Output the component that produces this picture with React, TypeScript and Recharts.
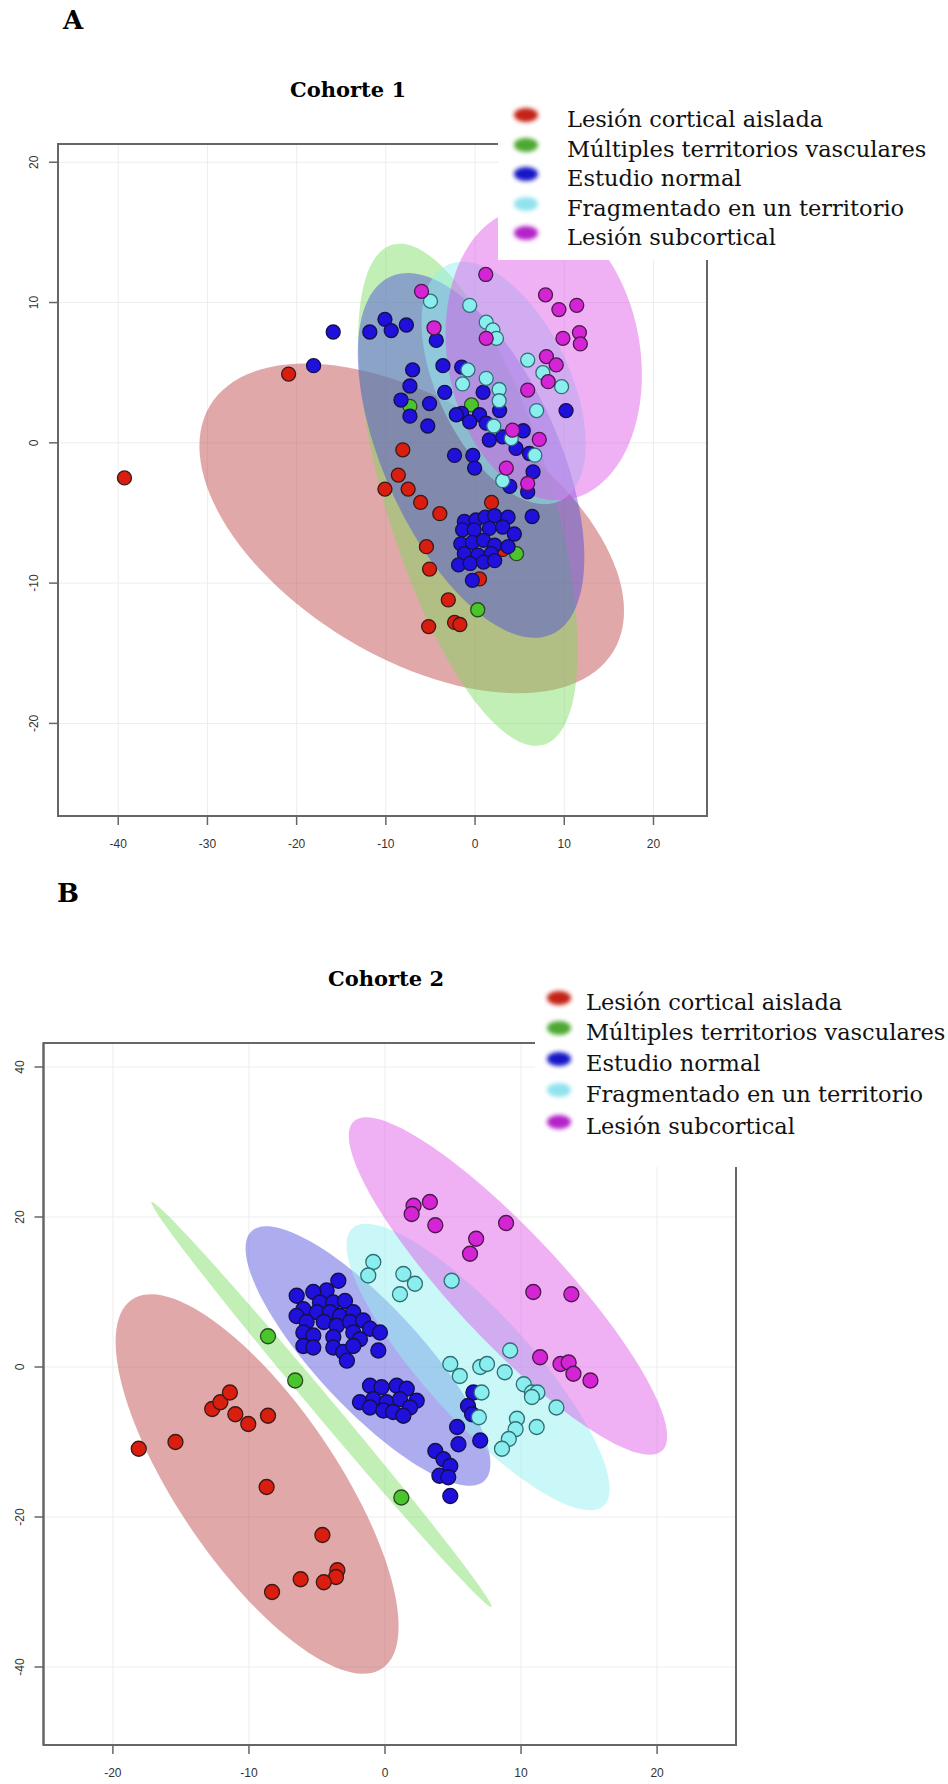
import { CartesianGrid, Legend, ReferenceArea, Scatter, ScatterChart, XAxis, YAxis } from "recharts";

type Pt = [number, number];

const groupNames = [
  "Lesión cortical aislada",
  "Múltiples territorios vasculares",
  "Estudio normal",
  "Fragmentado en un territorio",
  "Lesión subcortical",
];
const pointColors = ["#d91e10", "#4bc52c", "#1f10dc", "#8aeeee", "#d424d6"];
const pointStrokes = ["#3a1a16", "#2a4a20", "#14104a", "#2f6f75", "#4a1a4a"];
const ellipseColors = ["#be4646", "#78dc5a", "#4646dc", "#96f0f0", "#dc50e6"];
const ellipseAlpha = [0.47, 0.45, 0.45, 0.5, 0.45];
const legendColors = ["#c42018", "#4ea832", "#1414c8", "#92e2ee", "#b424c8"];

// Cohorte 1
const xTicksA = [-40, -30, -20, -10, 0, 10, 20];
const yTicksA = [-20, -10, 0, 10, 20];
const xDomainA: Pt = [-46.75, 26];
const yDomainA: Pt = [-26.6, 21.3];
// [centre x, centre y, half width, half height, correlation]
const ellipsesA = [
  [-7.1, -6.1, 23.8, 11.75, -0.5],
  [-0.8, -3.7, 12.3, 17.9, -0.62],
  [-0.45, -0.9, 12.7, 13.0, -0.56],
  [3.2, 4.26, 9.2, 8.64, -0.5],
  [7.7, 6.3, 11.0, 10.4, -0.14],
];
const redA: Pt[] = [
  [-39.3, -2.5], [-20.9, 4.9], [-8.1, -0.5], [-8.6, -2.3], [-10.1, -3.3], [-7.5, -3.3],
  [-6.1, -4.25], [-3.95, -5.05], [1.85, -4.25], [-5.45, -7.4], [-5.1, -9.0], [3.1, -7.6],
  [0.5, -9.7], [-3.0, -11.2], [-5.2, -13.1], [-2.3, -12.8], [-1.7, -12.95],
];
const greenA: Pt[] = [[-7.3, 2.6], [-0.4, 2.7], [4.65, -7.9], [0.3, -11.9]];
const blueA: Pt[] = [
  [-18.1, 5.5], [-15.9, 7.9], [-11.8, 7.9], [-10.1, 8.8], [-9.4, 8.0], [-7.7, 8.4],
  [-4.35, 7.3], [-7.0, 5.2], [-3.6, 5.5], [-1.5, 5.4], [-7.3, 4.05], [-3.4, 3.6],
  [0.9, 3.6], [-8.3, 3.05], [-5.1, 2.8], [-7.3, 1.9], [-1.5, 2.1], [0.5, 2.0],
  [-0.6, 1.5], [-5.3, 1.2], [1.6, 0.2], [-2.3, -0.9], [-0.25, -0.9], [-0.05, -1.8],
  [3.9, -3.1], [-2.1, 2.0], [2.75, 2.3], [1.25, 1.4], [5.4, 0.86], [3.1, 0.43],
  [4.6, -0.4], [6.1, -0.76], [6.5, -2.07], [5.9, -3.5], [10.2, 2.3], [6.4, -5.25],
  [-1.2, -5.6], [0.1, -5.5], [1.15, -5.3], [2.2, -5.2], [3.7, -5.3], [-1.4, -6.2],
  [-0.1, -6.2], [1.6, -6.1], [3.1, -6.0], [4.4, -6.5], [-1.6, -7.2], [-0.3, -7.1],
  [0.95, -6.95], [2.2, -7.3], [3.7, -7.4], [-1.2, -7.9], [0.3, -8.0], [1.8, -7.9],
  [-1.85, -8.7], [-0.55, -8.6], [0.95, -8.5], [2.2, -8.4], [-0.3, -9.8],
];
const cyanA: Pt[] = [
  [-5.0, 10.1], [-0.6, 9.8], [1.25, 8.6], [2.0, 8.05], [2.4, 7.45], [-0.8, 5.2],
  [-1.4, 4.2], [1.25, 4.6], [2.7, 3.8], [2.7, 3.0], [2.1, 1.2], [3.1, -2.7],
  [5.9, 5.9], [7.6, 5.0], [9.7, 4.0], [6.9, 2.3], [4.06, 0.3], [6.7, -0.88],
];
const magentaA: Pt[] = [
  [-6.0, 10.8], [1.2, 12.0], [-4.6, 8.2], [1.25, 7.45], [4.2, 0.9], [3.5, -1.8],
  [7.9, 10.55], [9.4, 9.5], [11.4, 9.8], [9.85, 7.45], [11.7, 7.86], [11.8, 7.05],
  [8.0, 6.15], [9.1, 5.55], [8.2, 4.36], [5.9, 3.76], [7.2, 0.24], [5.9, -2.9],
];

// Cohorte 2
const xTicksB = [-20, -10, 0, 10, 20];
const yTicksB = [-40, -20, 0, 20, 40];
const xDomainB: Pt = [-25.1, 25.8];
const yDomainB: Pt = [-50.4, 43.2];
const ellipsesB = [
  [-9.4, -15.6, 10.4, 25.3, -0.75],
  [-4.67, -5.0, 12.5, 27.0, -0.997],
  [-1.25, 1.47, 9.0, 17.3, -0.83],
  [6.84, 0.0, 9.67, 19.1, -0.85],
  [9.04, 10.8, 11.7, 22.5, -0.89],
];
const redB: Pt[] = [
  [-18.1, -10.9], [-15.4, -10.0], [-12.7, -5.6], [-12.1, -4.7], [-11.4, -3.4], [-11.0, -6.3],
  [-10.05, -7.6], [-8.6, -6.5], [-8.7, -16.0], [-4.6, -22.4], [-3.5, -27.1], [-3.6, -28.0],
  [-4.5, -28.7], [-6.2, -28.3], [-8.3, -30.0],
];
const greenB: Pt[] = [[-8.6, 4.1], [-6.6, -1.8], [1.2, -17.4]];
const blueB: Pt[] = [
  [-3.43, 11.5], [-4.29, 10.2], [-5.27, 10.0], [-6.49, 9.5], [-4.78, 8.6], [-3.8, 8.6],
  [-2.94, 8.8], [-6.0, 7.7], [-5.0, 7.3], [-4.04, 7.3], [-3.3, 6.8], [-2.33, 7.3],
  [-6.5, 6.8], [-5.76, 6.0], [-4.5, 6.0], [-3.55, 5.5], [-2.57, 6.0], [-1.6, 6.2],
  [-1.1, 5.1], [-0.37, 4.6], [-6.0, 4.6], [-5.27, 4.2], [-3.8, 4.0], [-2.33, 4.6],
  [-1.84, 3.7], [-6.0, 2.8], [-5.27, 2.6], [-3.8, 2.6], [-3.07, 2.0], [-2.33, 2.8],
  [-0.49, 2.2], [-2.8, 0.84],
  [-1.1, -2.5], [-0.25, -2.7], [0.86, -2.5], [1.6, -2.9], [2.33, -4.5], [-1.84, -4.7],
  [-0.86, -4.3], [0.12, -4.7], [1.1, -4.3], [1.84, -5.4], [-1.1, -5.4], [-0.12, -5.8],
  [0.6, -6.0], [1.35, -6.5],
  [6.5, -3.4], [6.1, -5.2], [6.4, -6.3], [5.3, -8.0], [5.4, -10.3], [7.0, -9.8],
  [3.7, -11.2], [4.3, -12.3], [4.8, -13.2], [4.0, -14.5], [4.65, -14.7], [4.8, -17.2],
];
const cyanB: Pt[] = [
  [-0.86, 14.0], [-1.23, 12.2], [1.35, 12.4], [2.2, 11.1], [1.1, 9.7], [4.9, 11.5],
  [9.2, 2.2], [4.8, 0.4], [5.5, -1.2], [7.0, 0.0], [7.5, 0.4], [8.8, -0.7],
  [10.2, -2.3], [10.8, -3.4], [11.2, -3.4], [10.8, -4.0], [12.6, -5.4], [7.1, -3.4],
  [6.9, -6.7], [9.7, -6.9], [9.6, -8.3], [11.15, -8.0], [9.1, -9.6], [8.6, -10.9],
];
const magentaB: Pt[] = [
  [2.1, 21.5], [3.3, 22.0], [1.96, 20.4], [3.7, 18.9], [6.7, 17.1], [6.25, 15.1],
  [8.9, 19.2], [10.9, 10.0], [13.7, 9.7], [11.4, 1.3], [12.9, 0.4], [13.5, 0.6],
  [13.85, -0.9], [15.1, -1.8],
];

const toXY = (pts: Pt[]) => pts.map(([x, y]) => ({ x, y }));

function ellipseData(e: number[]) {
  const [cx, cy, w, h, r] = e;
  const s = Math.sqrt(1 - r * r);
  const n = 120;
  return Array.from({ length: n }, (_, i) => {
    const t = (i / n) * Math.PI * 2;
    return { x: cx + w * Math.cos(t), y: cy + h * (r * Math.cos(t) + s * Math.sin(t)) };
  });
}

const tickFont = { fontFamily: "Liberation Sans, Arial, sans-serif", fontSize: 12, fill: "#333" };

const XTick = (p: any) => (
  <text x={p.x} y={p.y} textAnchor="middle" dominantBaseline="central" {...tickFont}>
    {p.payload.value}
  </text>
);

const YTick = (p: any) => (
  <text
    x={p.x}
    y={p.y}
    textAnchor="middle"
    dominantBaseline="central"
    transform={`rotate(-90 ${p.x} ${p.y})`}
    {...tickFont}
  >
    {p.payload.value}
  </text>
);

function LegendSvg({ w, h, markerX, textX, rows }: { w: number; h: number; markerX: number; textX: number; rows: number[] }) {
  return (
    <svg width={w} height={h} style={{ display: "block" }}>
      <defs>
        <filter id="lgblur" x="-50%" y="-50%" width="200%" height="200%">
          <feGaussianBlur stdDeviation="2" />
        </filter>
      </defs>
      <rect x={0} y={0} width={w} height={h} fill="#ffffff" />
      {groupNames.map((name, i) => (
        <g key={name}>
          <ellipse cx={markerX} cy={rows[i] - 12} rx={12} ry={7} fill={legendColors[i]} filter="url(#lgblur)" />
          <text x={textX} y={rows[i]} fontFamily="DejaVu Serif, serif" fontSize={22.5} fill="#111">
            {name}
          </text>
        </g>
      ))}
    </svg>
  );
}

type PanelProps = {
  top: number;
  height: number;
  margin: { top: number; right: number; bottom: number; left: number };
  xDomain: Pt;
  yDomain: Pt;
  xTicks: number[];
  yTicks: number[];
  ellipses: number[][];
  groups: Pt[][];
  r: number;
  legendPos: { left: number; top: number; width: number; height: number };
  legendRows: number[];
  markerX: number;
  textX: number;
};

function Panel(props: PanelProps) {
  const { top, height, margin, xDomain, yDomain, xTicks, yTicks, ellipses, groups, r, legendPos } = props;
  return (
    <div style={{ position: "absolute", left: 0, top }}>
      <ScatterChart width={948} height={height} margin={margin}>
        <CartesianGrid stroke="#ededed" />
        <XAxis
          type="number"
          dataKey="x"
          domain={xDomain}
          ticks={xTicks}
          interval={0}
          allowDataOverflow
          height={30}
          tickSize={9}
          tickMargin={19}
          axisLine={{ stroke: "#666", strokeWidth: 2 }}
          tickLine={{ stroke: "#666", strokeWidth: 1.5 }}
          tick={XTick}
        />
        <YAxis
          type="number"
          dataKey="y"
          domain={yDomain}
          ticks={yTicks}
          interval={0}
          allowDataOverflow
          width={30}
          tickSize={9}
          tickMargin={15}
          axisLine={{ stroke: "#666", strokeWidth: 2 }}
          tickLine={{ stroke: "#666", strokeWidth: 1.5 }}
          tick={YTick}
        />
        <ReferenceArea
          x1={xDomain[0]}
          x2={xDomain[1]}
          y1={yDomain[0]}
          y2={yDomain[1]}
          fill="none"
          stroke="#666"
          strokeWidth={2}
          ifOverflow="visible"
        />
        {ellipses.map((e, i) => (
          <Scatter
            key={`ell-${i}`}
            data={ellipseData(e)}
            legendType="none"
            isAnimationActive={false}
            shape={() => <g />}
            line={(lp: any) => (
              <polygon
                points={lp.points.map((q: any) => `${q.x},${q.y}`).join(" ")}
                fill={ellipseColors[i]}
                fillOpacity={ellipseAlpha[i]}
                stroke="none"
              />
            )}
          />
        ))}
        {groups.map((g, i) => (
          <Scatter
            key={`pts-${i}`}
            name={groupNames[i]}
            data={toXY(g)}
            isAnimationActive={false}
            shape={(p: any) => (
              <circle cx={p.cx} cy={p.cy} r={r} fill={pointColors[i]} stroke={pointStrokes[i]} strokeWidth={1.3} />
            )}
          />
        ))}
        <Legend
          layout="vertical"
          align="center"
          verticalAlign="middle"
          wrapperStyle={{ ...legendPos, position: "absolute" }}
          content={() => (
            <LegendSvg
              w={legendPos.width}
              h={legendPos.height}
              markerX={props.markerX}
              textX={props.textX}
              rows={props.legendRows}
            />
          )}
        />
      </ScatterChart>
    </div>
  );
}

const titleFont = { fontFamily: "DejaVu Serif, serif", fontWeight: 700, fill: "#000" };

export default function App() {
  return (
    <div style={{ position: "absolute", left: 0, top: 0, width: 948, height: 1784, background: "#fff" }}>
      <Panel
        top={0}
        height={870}
        margin={{ top: 144, right: 241, bottom: 24, left: 28 }}
        xDomain={xDomainA}
        yDomain={yDomainA}
        xTicks={xTicksA}
        yTicks={yTicksA}
        ellipses={ellipsesA}
        groups={[redA, greenA, blueA, cyanA, magentaA]}
        r={7}
        legendPos={{ left: 498, top: 100, width: 450, height: 160 }}
        legendRows={[27, 57, 86, 116, 145]}
        markerX={28}
        textX={69}
      />
      <Panel
        top={870}
        height={914}
        margin={{ top: 173, right: 212, bottom: 9, left: 13.5 }}
        xDomain={xDomainB}
        yDomain={yDomainB}
        xTicks={xTicksB}
        yTicks={yTicksB}
        ellipses={ellipsesB}
        groups={[redB, greenB, blueB, cyanB, magentaB]}
        r={7.5}
        legendPos={{ left: 535, top: 105, width: 413, height: 192 }}
        legendRows={[35, 65, 96, 127, 159]}
        markerX={24}
        textX={51}
      />
      <svg width={948} height={1784} style={{ position: "absolute", left: 0, top: 0, pointerEvents: "none" }}>
        <text x={63} y={29} fontSize={26} {...titleFont}>A</text>
        <text x={348} y={97} fontSize={21} textAnchor="middle" {...titleFont}>Cohorte 1</text>
        <text x={57} y={902} fontSize={26} {...titleFont}>B</text>
        <text x={386} y={986} fontSize={21} textAnchor="middle" {...titleFont}>Cohorte 2</text>
      </svg>
    </div>
  );
}
